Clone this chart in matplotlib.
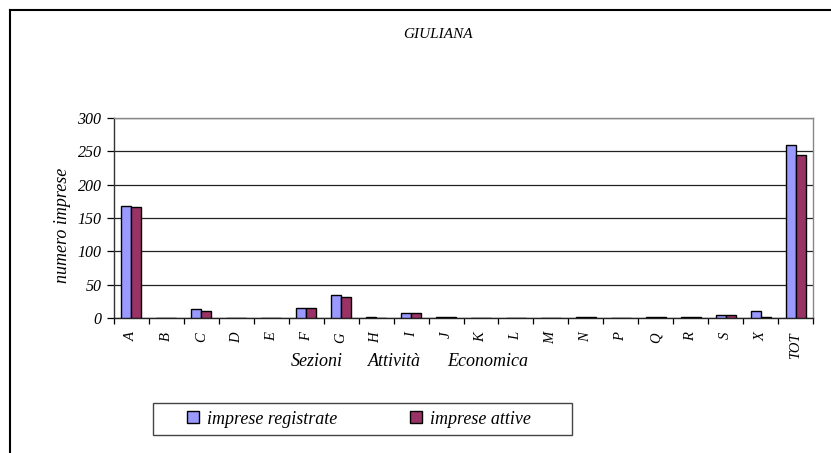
import matplotlib
matplotlib.use("Agg")
import matplotlib.pyplot as plt
import numpy as np
from matplotlib.lines import Line2D
from matplotlib.patches import Patch, Rectangle

categories = ["A", "B", "C", "D", "E", "F", "G", "H", "I", "J", "K", "L", "M",
              "N", "P", "Q", "R", "S", "X", "TOT"]
registrate = [168, 0, 13, 0, 0, 15, 34, 1, 7, 1, 0, 0, 0, 2, 0, 1, 2, 5, 11, 259]
attive = [167, 0, 11, 0, 0, 15, 32, 0, 7, 1, 0, 0, 0, 2, 0, 1, 2, 5, 1, 244]
series_names = ["imprese registrate", "imprese attive"]
colors = ["#9999FF", "#993366"]
title = "GIULIANA"
ylabel = "numero imprese"
xlabel_words = ["Sezioni", "Attività", "Economica"]
yticks = [0, 50, 100, 150, 200, 250, 300]

plt.rcParams['font.family'] = ['Liberation Serif', 'DejaVu Serif']
plt.rcParams['font.style'] = 'italic'

W, H = 831, 453
fig = plt.figure(figsize=(W / 100, H / 100), dpi=100)

def fx(px):
    return px / W

def fy(py):
    return 1 - py / H

ax = fig.add_axes([fx(114), fy(318), fx(813) - fx(114), fy(118) - fy(318)])

x = np.arange(len(categories))
bw = 0.286
ax.bar(x - bw / 2, registrate, bw, color=colors[0], edgecolor="black", linewidth=1.0, zorder=3)
ax.bar(x + bw / 2, attive, bw, color=colors[1], edgecolor="black", linewidth=1.0, zorder=3)

ax.set_xlim(-0.5, len(categories) - 0.5)
ax.set_ylim(0, 300)
ax.set_yticks(yticks)
ax.set_yticklabels([str(v) for v in yticks], fontsize=11.5, style='italic')
ax.yaxis.grid(True, color="#222222", linewidth=0.9, zorder=0)
ax.set_axisbelow(True)

ax.set_xticks(np.arange(-0.5, len(categories), 1.0))
ax.set_xticklabels([])
ax.set_xticks(x, minor=True)
ax.set_xticklabels(categories, minor=True, rotation=90, fontsize=10.5, style='italic')
ax.tick_params(axis='x', which='minor', length=0, pad=10)
ax.tick_params(axis='x', which='major', length=4, direction='out', width=0.9)
ax.tick_params(axis='y', length=5, direction='out', width=0.9, pad=4)

for s in ["top", "right"]:
    ax.spines[s].set_color("#888888")
    ax.spines[s].set_linewidth(1.0)
ax.spines["left"].set_color("#333333")
ax.spines["bottom"].set_color("#222222")
ax.spines["left"].set_linewidth(1.0)
ax.spines["bottom"].set_linewidth(1.0)

fig.text(fx(438), fy(35), title, ha="center", va="center", fontsize=11, style='italic')
fig.text(fx(63), fy(225), ylabel, ha="center", va="center", rotation=90, fontsize=13, style='italic')
for word, xpos in zip(xlabel_words, [291, 368, 447]):
    fig.text(fx(xpos), fy(366), word, ha="left", va="baseline", fontsize=13, style='italic')

handles = [Patch(facecolor=colors[0], edgecolor="black", linewidth=1.0),
           Patch(facecolor=colors[1], edgecolor="black", linewidth=1.0)]
leg = fig.legend(handles, series_names, loc="center",
                 bbox_to_anchor=(fx(359), fy(419)),
                 ncol=2, frameon=False,
                 handlelength=0.67, handleheight=0.67, borderaxespad=0, borderpad=0,
                 handletextpad=0.45, columnspacing=4.0,
                 prop={'style': 'italic', 'size': 13})
fig.add_artist(Rectangle((fx(153), fy(435)), fx(572) - fx(153), fy(403) - fy(435),
                         transform=fig.transFigure, fill=False, edgecolor="#444444", linewidth=1.0))

fig.add_artist(Line2D([fx(10), fx(10)], [fy(10), 0], color="black", linewidth=1.5))
fig.add_artist(Line2D([fx(10), 1], [fy(10), fy(10)], color="black", linewidth=1.5))

fig.savefig("out.png", dpi=100)
